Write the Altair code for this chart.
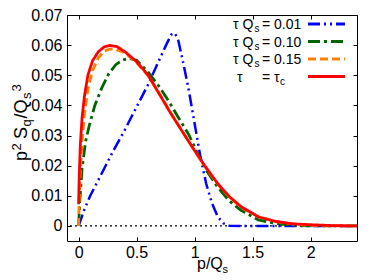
import altair as alt
import pandas as pd

FONT = "Liberation Sans"

# ---- data ----
p_blue = [0, 0.05, 0.1, 0.2, 0.3, 0.4, 0.5, 0.6, 0.7, 0.76, 0.8, 0.83, 0.86, 0.9, 0.95, 1.0, 1.05, 1.1, 1.15, 1.2, 1.25, 1.3, 1.4, 1.6, 1.8, 2.0, 2.2, 2.4]
v_blue = [0, 0.0055, 0.010, 0.0175, 0.0250, 0.032, 0.0395, 0.047, 0.0555, 0.0605, 0.0635, 0.0640, 0.0615, 0.0545, 0.045, 0.0340, 0.0230, 0.0140, 0.0075, 0.0030, 0.0008, 0.0001, 0, 0, 0, 0, 0, 0]

p_green = [0, 0.01, 0.03, 0.06, 0.09, 0.14, 0.2, 0.26, 0.32, 0.38, 0.43, 0.5, 0.6, 0.7, 0.78, 0.86, 0.95, 1.02, 1.1, 1.2, 1.3, 1.4, 1.55, 1.7, 1.85, 2.0, 2.2, 2.4]
v_green = [0, 0.008, 0.019, 0.028, 0.033, 0.040, 0.0458, 0.0505, 0.0535, 0.0551, 0.0556, 0.0550, 0.0510, 0.0460, 0.0412, 0.0360, 0.0303, 0.0245, 0.0185, 0.0128, 0.0083, 0.0052, 0.0020, 0.0008, 0.0002, 0.0, 0.0, 0.0]

p_orange = [0, 0.005, 0.015, 0.03, 0.05, 0.08, 0.12, 0.17, 0.22, 0.27, 0.32, 0.40, 0.50, 0.60, 0.70, 0.80, 0.90, 1.00, 1.10, 1.20, 1.30, 1.40, 1.55, 1.70, 1.85, 2.00, 2.20, 2.40]
v_orange = [0.0, 0.008, 0.018, 0.028, 0.037, 0.0455, 0.0515, 0.0558, 0.0580, 0.0587, 0.0586, 0.0574, 0.0542, 0.0498, 0.0437, 0.0372, 0.0310, 0.0250, 0.0191, 0.0139, 0.0096, 0.0062, 0.0031, 0.0014, 0.0006, 0.0002, 0.0, 0.0]

p_red = [0, 0.005, 0.015, 0.03, 0.05, 0.08, 0.12, 0.17, 0.22, 0.27, 0.33, 0.40, 0.50, 0.60, 0.70, 0.80, 0.90, 1.00, 1.10, 1.20, 1.30, 1.40, 1.55, 1.70, 1.85, 2.00, 2.20, 2.40]
v_red = [0.0072, 0.016, 0.027, 0.036, 0.043, 0.050, 0.0548, 0.0578, 0.0594, 0.0599, 0.0595, 0.0578, 0.0545, 0.0500, 0.0435, 0.0370, 0.0310, 0.0250, 0.0193, 0.0140, 0.0097, 0.0064, 0.0030, 0.0015, 0.0007, 0.0004, 0.0001, 0.0]

series_tau = ["0.01", "0.10", "0.15", "c"]
series_colors = ["#0000ff", "#006400", "#ff8000", "#ff0000"]
series_dash = [[12, 4, 2, 4, 2, 4], [12, 4, 3, 4], [8, 4], [1, 0]]

x_ticks = [0, 0.5, 1, 1.5, 2]
y_ticks = [0, 0.01, 0.02, 0.03, 0.04, 0.05, 0.06, 0.07]

W, H = 290, 226

XS = alt.Scale(domain=[-0.1, 2.4], nice=False, zero=False)
YS = alt.Scale(domain=[-0.005, 0.07], nice=False, zero=False)


def line_layer(p, v, color, dash, width):
    df = pd.DataFrame({"p": p, "v": v})
    return alt.Chart(df).mark_line(color=color, strokeDash=dash, strokeWidth=width, clip=True).encode(
        x=alt.X("p:Q", scale=XS, axis=None),
        y=alt.Y("v:Q", scale=YS, axis=None),
    )


def axis_layer(xorient, yorient, labels):
    df = pd.DataFrame({"p": [0.0], "v": [0.0]})
    common = dict(offset=-4, tickSize=4, domain=False, grid=False, title=None,
                  labels=labels, labelFont=FONT, labelFontSize=16, labelColor="black",
                  tickColor="black", tickWidth=1, format="~g")
    return alt.Chart(df).mark_point(opacity=0).encode(
        x=alt.X("p:Q", scale=XS, axis=alt.Axis(orient=xorient, values=x_ticks, labelPadding=3, **common)),
        y=alt.Y("v:Q", scale=YS, axis=alt.Axis(orient=yorient, values=y_ticks, labelPadding=5, **common)),
    )


def txt(t, x, y, size, angle=0, align="left", baseline="alphabetic"):
    return alt.Chart(pd.DataFrame({"t": [t]})).mark_text(
        font=FONT, fontSize=size, angle=angle, align=align, baseline=baseline, color="black"
    ).encode(x=alt.value(x), y=alt.value(y), text="t:N")


def seg(x1, x2, y, color, dash, width):
    return alt.Chart(pd.DataFrame({"a": [0]})).mark_rule(
        color=color, strokeDash=dash, strokeWidth=width
    ).encode(x=alt.value(x1), x2=alt.value(x2), y=alt.value(y))


zero_line = alt.Chart(pd.DataFrame({"v": [0.0]})).mark_rule(
    color="black", strokeDash=[2, 3], strokeWidth=1.2
).encode(y=alt.Y("v:Q", scale=YS, axis=None))

layers = [
    axis_layer("bottom", "left", True),
    axis_layer("top", "right", False),
    zero_line,
    line_layer(p_blue, v_blue, series_colors[0], series_dash[0], 2.5),
    line_layer(p_green, v_green, series_colors[1], series_dash[1], 2.8),
    line_layer(p_orange, v_orange, series_colors[2], series_dash[2], 2.8),
    line_layer(p_red, v_red, series_colors[3], series_dash[3], 2.8),
]

# legend (top right, inside plot)
row_y = [9, 26.5, 44, 61.5]
for i in range(4):
    yb = row_y[i] + 5
    if series_tau[i] != "c":
        layers.append(txt("\u03c4 Q", 166, yb, 14))
        layers.append(txt("s", 187.5, yb + 3, 10))
        layers.append(txt("= " + series_tau[i], 195, yb, 14))
    else:
        layers.append(txt("\u03c4", 170, yb, 14))
        layers.append(txt("= \u03c4", 195, yb, 14))
        layers.append(txt("c", 213, yb + 3, 10))
    layers.append(seg(241, 278, row_y[i], series_colors[i], series_dash[i], 2.8))

# x title  p/Q_s
layers.append(txt("p/Q", 130, 254, 16))
layers.append(txt("s", 155.5, 258, 11))

# y title  p^2 S_q/Q_s^3 (rotated)
bx = -40
y0 = 146
layers.append(txt("p", bx, y0, 18, angle=270))
layers.append(txt("2", bx - 6.5, y0 - 10.5, 13, angle=270))
layers.append(txt("S", bx, y0 - 22, 18, angle=270))
layers.append(txt("q", bx + 4, y0 - 34.5, 13, angle=270))
layers.append(txt("/Q", bx, y0 - 42.5, 18, angle=270))
layers.append(txt("s", bx + 4, y0 - 62, 13, angle=270))
layers.append(txt("3", bx - 6.5, y0 - 69.5, 13, angle=270))

chart = alt.layer(*layers).resolve_axis(x="independent", y="independent").properties(
    width=W, height=H,
    autosize=alt.AutoSizeParams(type="none"),
    padding={"left": 59, "top": 7, "right": 9, "bottom": 34},
    background="white",
).configure_view(stroke="black", strokeWidth=1)

chart.save("out.html", embed_options={"renderer": "svg", "actions": False})
